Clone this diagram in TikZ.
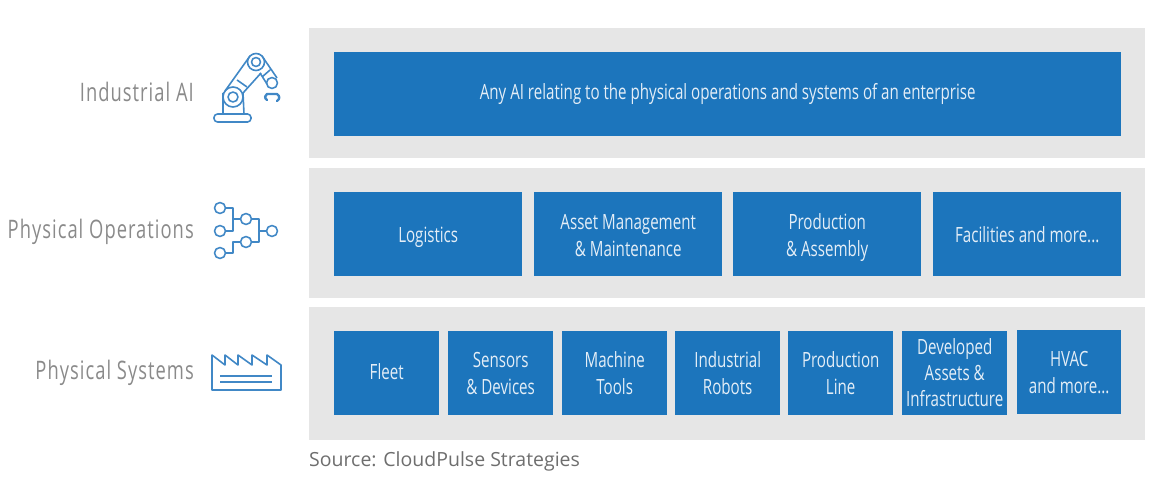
\documentclass[tikz,border=0pt]{standalone}
\usepackage{fontspec}
\setmainfont{Open Sans}
\newfontfamily\boxfont[FakeStretch=0.72]{Open Sans}
\newfontfamily\sidefont[FakeStretch=0.72,LetterSpace=4]{Open Sans}
\usepackage{tikz}
\usetikzlibrary{positioning}

\definecolor{panelgray}{HTML}{E6E6E6}
\definecolor{boxblue}{HTML}{1C75BC}
\definecolor{iconblue}{HTML}{4188C6}
\definecolor{sidegray}{HTML}{8A8A8A}
\definecolor{sourcegray}{HTML}{6E6E6E}

\newcommand{\topgap}[1]{\rule{0pt}{#1pt}}

\tikzset{
	panel/.style={fill=panelgray, draw=none, minimum width=836pt, inner sep=0pt, anchor=north west},
	boxitem/.style={fill=boxblue, draw=none, text=white!88!boxblue, inner sep=0pt, minimum height=84pt, align=center, anchor=north west, font=\boxfont\fontsize{21}{27}\selectfont, execute at end node=\strut},
	sidelabel/.style={text=sidegray, anchor=base east, inner sep=0pt, font=\sidefont\fontsize{25.5}{30}\selectfont},
	iconline/.style={draw=iconblue, line width=1.6pt, line join=round, fill=none},
	gripline/.style={draw=iconblue, line width=2.4pt, line cap=round, line join=round, fill=none},
}

\begin{document}
\begin{tikzpicture}[x=1pt,y=-1pt]
	\useasboundingbox (0,0) rectangle (1158,484);

	% panels
	\node[panel, minimum height=130pt] (panelai) at (309,28) {};
	\node[panel, minimum height=130pt] (panelops) at (309,168) {};
	\node[panel, minimum height=133pt] (panelsys) at (309,307) {};

	% top row
	\node[boxitem, minimum width=787pt] (anyai) at (334,52) {\topgap{19}Any AI relating to the physical operations and systems of an enterprise};

	% middle row
	\node[boxitem, minimum width=188pt] (logistics) at (334,192) {\topgap{25}Logistics};
	\node[boxitem, minimum width=188pt] (asset) at (534,192) {\topgap{26}Asset Management\\\& Maintenance};
	\node[boxitem, minimum width=188pt] (production) at (733,192) {\topgap{26}Production\\\& Assembly};
	\node[boxitem, minimum width=188pt] (facilities) at (933,192) {\topgap{25}Facilities and more...};

	% bottom row
	\node[boxitem, minimum width=105pt] (fleet) at (334,331) {\topgap{21}Fleet};
	\node[boxitem, minimum width=105pt] (sensors) at (448,331) {\topgap{24}Sensors\\\& Devices};
	\node[boxitem, minimum width=105pt] (tools) at (562,331) {\topgap{24}Machine\\Tools};
	\node[boxitem, minimum width=105pt] (robots) at (675,331) {\topgap{24}Industrial\\Robots};
	\node[boxitem, minimum width=105pt] (line) at (788,331) {\topgap{24}Production\\Line};
	\node[boxitem, minimum width=105pt, execute at end node=] (developed) at (902,331) {\topgap{23.5}Developed\\[-1pt]Assets \&\\[-1pt]Infrastructure};
	\node[boxitem, minimum width=104pt] (hvac) at (1017,330) {\topgap{23}HVAC\\and more...};

	% side labels
	\node[sidelabel] (labelai) at (194,102) {Industrial AI};
	\node[sidelabel] (labelops) at (194,238) {Physical Operations};
	\node[sidelabel] (labelsys) at (194,379) {Physical Systems};
	\node[text=sourcegray, anchor=west, inner sep=0pt, font=\fontsize{19.5}{24}\selectfont] (source) at (309,461) {Source: CloudPulse Strategies};

	% robot icon
	\draw[iconline, rounded corners=3.5pt] (214,114) rectangle (251,122);
	\draw[iconline] (223,114) -- (223,93) (244,114) -- (243,93);
	\draw[iconline] (233,97) circle (10pt) (233,97) circle (5pt);
	\draw[iconline] (225,91) -- (250,56) (243,93) -- (261,73);
	\draw[iconline] (237,80) -- (247,87);
	\draw[iconline] (256,62) circle (8.5pt) (256,62) circle (4.5pt);
	\draw[iconline] (262,56) -- (277,78) (260,73) -- (267,84) (262,77) -- (270,70);
	\draw[iconline] (272,83) circle (5.5pt);
	\draw[gripline] (267,100) .. controls (264,98) and (265,95) .. (267,94) -- (277,94) .. controls (280,96) and (280,99) .. (277,101);

	% network icon
	\foreach \cx/\cy in {220/208, 220/231, 220/253, 246/219, 246/242, 272/231}
		\draw[iconline] (\cx,\cy) circle (5.5pt);
	\draw[iconline] (225.5,208) -- (233,208) -- (233,231) -- (225.5,231);
	\draw[iconline] (233,219) -- (240.5,219);
	\draw[iconline] (251.5,219) -- (259,219) -- (259,242) -- (251.5,242);
	\draw[iconline] (259,231) -- (266.5,231);
	\draw[iconline] (225.5,253) -- (233,253) -- (233,242) -- (240.5,242);

	% factory icon
	\draw[iconline] (212,355) -- (212,390) -- (281,390) -- (281,365) -- (267,355) -- (267,365) -- (252,355) -- (252,365) -- (238,355) -- (238,365) -- (225,355) -- (225,365) -- cycle;
	\draw[iconline] (220,376) -- (272,376) (220,382) -- (272,382);
\end{tikzpicture}
\end{document}
